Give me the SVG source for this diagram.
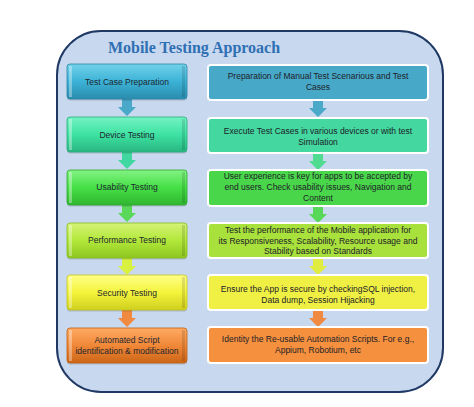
<svg xmlns="http://www.w3.org/2000/svg" xmlns:xlink="http://www.w3.org/1999/xlink" width="474" height="407" viewBox="0 0 474 407">
<defs>
<style>
.lt{font-family:"Liberation Sans",Arial,sans-serif;font-size:8.5px;fill:#1c2630;text-anchor:middle}
.rt{font-family:"Liberation Sans",Arial,sans-serif;font-size:8.5px;fill:#1c2228;text-anchor:middle}
.title{font-family:"Liberation Serif","Times New Roman",serif;font-size:16px;font-weight:bold;fill:#2f6fb3}
.rb{stroke:#ffffff;stroke-width:2}
.hl{fill:#ffffff;opacity:0.35}
.dk{fill:#000000;opacity:0.12}
</style>
<linearGradient id="g1" x1="0" y1="0" x2="0" y2="1"><stop offset="0" stop-color="#72d2ea"/><stop offset="0.5" stop-color="#3cb2d6"/><stop offset="1" stop-color="#2a8cae"/></linearGradient>
<linearGradient id="g2" x1="0" y1="0" x2="0" y2="1"><stop offset="0" stop-color="#74f2c4"/><stop offset="0.5" stop-color="#3ee2a2"/><stop offset="1" stop-color="#28b680"/></linearGradient>
<linearGradient id="g3" x1="0" y1="0" x2="0" y2="1"><stop offset="0" stop-color="#84f284"/><stop offset="0.5" stop-color="#46e046"/><stop offset="1" stop-color="#30b630"/></linearGradient>
<linearGradient id="g4" x1="0" y1="0" x2="0" y2="1"><stop offset="0" stop-color="#d4f276"/><stop offset="0.5" stop-color="#b2e83a"/><stop offset="1" stop-color="#8ec620"/></linearGradient>
<linearGradient id="g5" x1="0" y1="0" x2="0" y2="1"><stop offset="0" stop-color="#ffff88"/><stop offset="0.5" stop-color="#f4f43c"/><stop offset="1" stop-color="#cfcf1e"/></linearGradient>
<linearGradient id="g6" x1="0" y1="0" x2="0" y2="1"><stop offset="0" stop-color="#ffaa64"/><stop offset="0.5" stop-color="#f08838"/><stop offset="1" stop-color="#cc6616"/></linearGradient>
<path id="arr" d="M-5,0 h10 v8 h4 l-9,9 l-9,-9 h4 z"/>
<g id="lbox">
<rect x="0" y="1.5" width="120" height="35" rx="3" fill="#000000" opacity="0.15"/>
</g>
</defs>

<g id="container">
<rect x="57" y="31" width="386" height="361" rx="44" ry="44" fill="#c8d8ef" stroke="#1f3864" stroke-width="2"/>
<text class="title" x="194" y="53" text-anchor="middle">Mobile Testing Approach</text>
</g>

<g id="connectors">
<use xlink:href="#arr" x="127" y="99" fill="#4aa8c8"/>
<use xlink:href="#arr" x="127" y="152" fill="#40d8a0"/>
<use xlink:href="#arr" x="127" y="205" fill="#5ad85a"/>
<use xlink:href="#arr" x="127" y="258" fill="#d8f040"/>
<use xlink:href="#arr" x="127" y="310" fill="#f08a40"/>
<use xlink:href="#arr" x="318" y="100" fill="#4aa8c8"/>
<use xlink:href="#arr" x="318" y="153" fill="#50dc90"/>
<use xlink:href="#arr" x="318" y="206" fill="#58d858"/>
<use xlink:href="#arr" x="318" y="258" fill="#e0ec40"/>
<use xlink:href="#arr" x="318" y="310" fill="#f08a40"/>
</g>

<g id="l1">
<use xlink:href="#lbox" x="67" y="64"/>
<rect x="67" y="64" width="120" height="35" rx="3" fill="url(#g1)" stroke="#2a86a6" stroke-width="0.8"/>
<rect class="hl" x="69" y="66" width="3" height="31"/><rect class="dk" x="182" y="66" width="3" height="31"/>
<text class="lt" x="127" y="85">Test Case Preparation</text>
</g>
<g id="l2">
<use xlink:href="#lbox" x="67" y="117"/>
<rect x="67" y="117" width="120" height="35" rx="3" fill="url(#g2)" stroke="#26ac78" stroke-width="0.8"/>
<rect class="hl" x="69" y="119" width="3" height="31"/><rect class="dk" x="182" y="119" width="3" height="31"/>
<text class="lt" x="127" y="138">Device Testing</text>
</g>
<g id="l3">
<use xlink:href="#lbox" x="67" y="170"/>
<rect x="67" y="170" width="120" height="35" rx="3" fill="url(#g3)" stroke="#2ea82e" stroke-width="0.8"/>
<rect class="hl" x="69" y="172" width="3" height="31"/><rect class="dk" x="182" y="172" width="3" height="31"/>
<text class="lt" x="127" y="190">Usability Testing</text>
</g>
<g id="l4">
<use xlink:href="#lbox" x="67" y="223"/>
<rect x="67" y="223" width="120" height="35" rx="3" fill="url(#g4)" stroke="#86bc1e" stroke-width="0.8"/>
<rect class="hl" x="69" y="225" width="3" height="31"/><rect class="dk" x="182" y="225" width="3" height="31"/>
<text class="lt" x="127" y="243">Performance Testing</text>
</g>
<g id="l5">
<use xlink:href="#lbox" x="67" y="275"/>
<rect x="67" y="275" width="120" height="35" rx="3" fill="url(#g5)" stroke="#c4c41c" stroke-width="0.8"/>
<rect class="hl" x="69" y="277" width="3" height="31"/><rect class="dk" x="182" y="277" width="3" height="31"/>
<text class="lt" x="127" y="296">Security Testing</text>
</g>
<g id="l6">
<use xlink:href="#lbox" x="67" y="328"/>
<rect x="67" y="328" width="120" height="35" rx="3" fill="url(#g6)" stroke="#c06010" stroke-width="0.8"/>
<rect class="hl" x="69" y="330" width="3" height="31"/><rect class="dk" x="182" y="330" width="3" height="31"/>
<text class="lt" x="127" y="343">Automated Script</text>
<text class="lt" x="127" y="354">identification &amp; modification</text>
</g>

<g id="r1">
<rect class="rb" x="208" y="65" width="220" height="35" rx="3" fill="#48a8c8"/>
<text class="rt" x="318" y="79">Preparation of Manual Test Scenarious and Test</text>
<text class="rt" x="318" y="90">Cases</text>
</g>
<g id="r2">
<rect class="rb" x="208" y="118" width="220" height="35" rx="3" fill="#44d8a0"/>
<text class="rt" x="318" y="134">Execute Test Cases in various devices or with  test</text>
<text class="rt" x="318" y="145">Simulation</text>
</g>
<g id="r3">
<rect class="rb" x="208" y="170" width="220" height="36" rx="3" fill="#4ad64a"/>
<text class="rt" x="318" y="179">User experience is key for apps to be accepted by</text>
<text class="rt" x="318" y="190">end users. Check usability  issues, Navigation  and</text>
<text class="rt" x="318" y="201">Content</text>
</g>
<g id="r4">
<rect class="rb" x="208" y="223" width="220" height="35" rx="3" fill="#a8e03c"/>
<text class="rt" x="318" y="233">Test the performance of the  Mobile application for</text>
<text class="rt" x="318" y="244">its Responsiveness, Scalability,  Resource usage and</text>
<text class="rt" x="318" y="254">Stability based on Standards</text>
</g>
<g id="r5">
<rect class="rb" x="208" y="275" width="220" height="35" rx="3" fill="#f0f044"/>
<text class="rt" x="318" y="292">Ensure the App is secure by checkingSQL injection,</text>
<text class="rt" x="318" y="303">Data dump, Session Hijacking</text>
</g>
<g id="r6">
<rect class="rb" x="208" y="327" width="220" height="36" rx="3" fill="#f5903e"/>
<text class="rt" x="318" y="342">Identity the Re-usable Automation Scripts. For e.g.,</text>
<text class="rt" x="318" y="353">Appium, Robotium,  etc</text>
</g>
</svg>
